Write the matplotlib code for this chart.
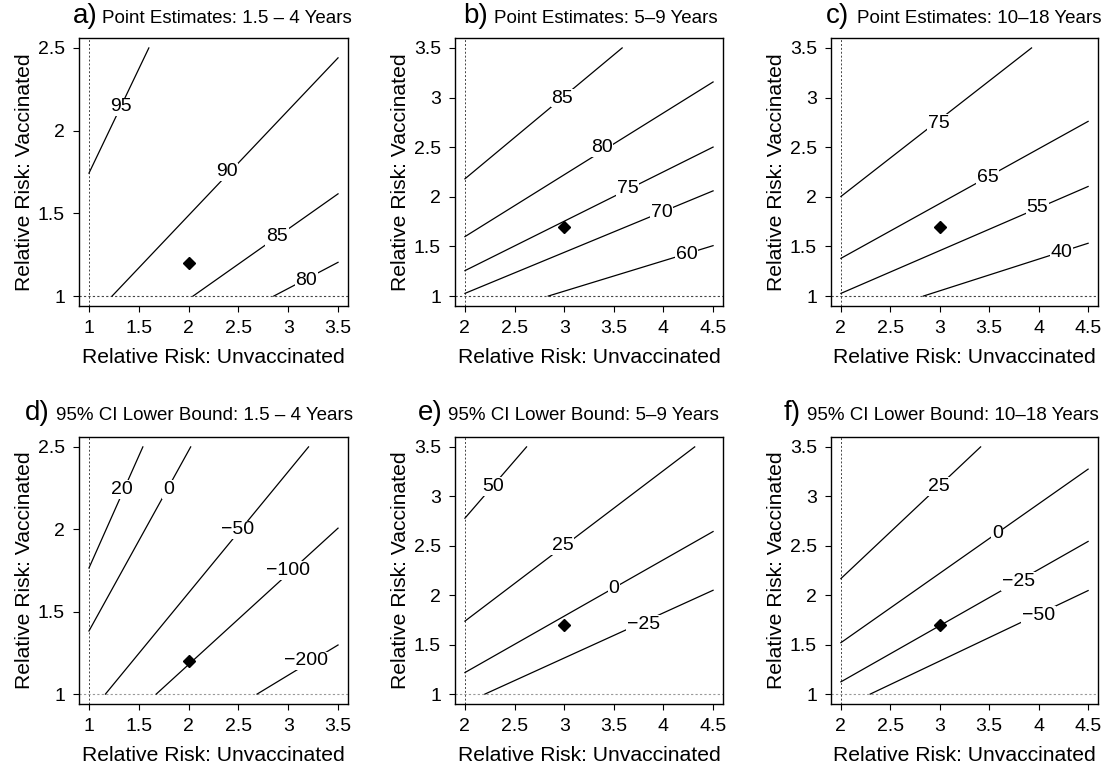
import matplotlib.pyplot as plt

plt.rcParams['font.family'] = ['Liberation Sans', 'DejaVu Sans']

W, H = 1115, 771

# ---- panel data (RR unvaccinated, RR vaccinated) ----
# a) Point Estimates: 1.5 - 4 Years
a_levels = ["95", "90", "85", "80"]
a_start = [(1.0, 1.743), (1.232, 1.0), (2.045, 1.0), (2.855, 1.0)]
a_end = [(1.601, 2.5), (3.5, 2.44), (3.5, 1.618), (3.5, 1.204)]
a_label_at = [(1.316, 2.144), (2.384, 1.750), (2.888, 1.360), (3.181, 1.093)]
a_point = (2.0, 1.2)

# b) Point Estimates: 5-9 Years
b_levels = ["85", "80", "75", "70", "60"]
b_start = [(2.0, 2.181), (2.0, 1.599), (2.0, 1.256), (2.0, 1.027), (2.839, 1.0)]
b_end = [(3.584, 3.5), (4.5, 3.157), (4.5, 2.501), (4.5, 2.06), (4.5, 1.508)]
b_label_at = [(2.983, 2.995), (3.376, 2.497), (3.638, 2.087), (3.98, 1.845), (4.232, 1.414)]
b_point = (3.0, 1.7)

# c) Point Estimates: 10-18 Years
c_levels = ["75", "65", "55", "40"]
c_start = [(2.0, 2.003), (2.0, 1.380), (2.0, 1.027), (2.834, 1.0)]
c_end = [(3.928, 3.5), (4.5, 2.760), (4.5, 2.104), (4.5, 1.532)]
c_label_at = [(2.986, 2.743), (3.484, 2.194), (3.989, 1.895), (4.231, 1.441)]
c_point = (3.0, 1.7)

# d) 95% CI Lower Bound: 1.5 - 4 Years
d_levels = ["20", "0", "\u221250", "\u2212100", "\u2212200"]
d_start = [(1.0, 1.765), (1.0, 1.383), (1.165, 1.0), (1.675, 1.0), (2.687, 1.0)]
d_end = [(1.541, 2.5), (2.021, 2.5), (3.204, 2.5), (3.5, 2.007), (3.5, 1.298)]
d_label_at = [(1.333, 2.242), (1.796, 2.242), (2.492, 1.997), (2.996, 1.749), (3.181, 1.201)]
d_point = (2.0, 1.2)

# e) 95% CI Lower Bound: 5-9 Years
e_levels = ["50", "25", "0", "\u221225"]
e_start = [(2.0, 2.779), (2.0, 1.738), (2.0, 1.218), (2.201, 1.0)]
e_end = [(2.621, 3.5), (4.315, 3.5), (4.5, 2.644), (4.5, 2.05)]
e_label_at = [(2.285, 3.097), (2.983, 2.5), (3.5, 2.067), (3.795, 1.705)]
e_point = (3.0, 1.7)

# f) 95% CI Lower Bound: 10-18 Years
f_levels = ["25", "0", "\u221225", "\u221250"]
f_start = [(2.0, 2.168), (2.0, 1.52), (2.0, 1.124), (2.296, 1.0)]
f_end = [(3.413, 3.5), (4.5, 3.275), (4.5, 2.544), (4.5, 2.047)]
f_label_at = [(2.986, 3.097), (3.581, 2.628), (3.793, 2.141), (3.995, 1.799)]
f_point = (3.0, 1.7)

letters = ["a)", "b)", "c)", "d)", "e)", "f)"]
titles = ["Point Estimates: 1.5 \u2013 4 Years", "Point Estimates: 5\u20139 Years",
          "Point Estimates: 10\u201318 Years", "95% CI Lower Bound: 1.5 \u2013 4 Years",
          "95% CI Lower Bound: 5\u20139 Years", "95% CI Lower Bound: 10\u201318 Years"]

panels = [
    (a_levels, a_start, a_end, a_label_at, a_point),
    (b_levels, b_start, b_end, b_label_at, b_point),
    (c_levels, c_start, c_end, c_label_at, c_point),
    (d_levels, d_start, d_end, d_label_at, d_point),
    (e_levels, e_start, e_end, e_label_at, e_point),
    (f_levels, f_start, f_end, f_label_at, f_point),
]

# layout in pixels: axes left/right, top/bottom
ax_lr = [(79, 348), (455, 723), (831, 1098)]
ax_tb = [(38, 306), (437, 704)]
# title pieces: letter right edge, text left edge, baseline
letter_right = [98, 488, 849, 50, 443, 801]
text_left = [102, 494, 857, 56, 448, 807]
title_base = [23, 420]

fig = plt.figure(figsize=(W / 100, H / 100), dpi=100)

for i, (levels, start, end, label_at, point) in enumerate(panels):
    row, col = divmod(i, 3)
    l, r = ax_lr[col]
    t, b = ax_tb[row]
    ax = fig.add_axes([l / W, 1 - b / H, (r - l) / W, (b - t) / H])

    xmin = 1.0 if col == 0 else 2.0
    xmax = 3.5 if col == 0 else 4.5
    ymax = 2.5 if col == 0 else 3.5
    xr = xmax - xmin
    yr = ymax - 1.0
    ax.set_xlim(xmin - 0.04 * xr, xmax + 0.04 * xr)
    ax.set_ylim(1.0 - 0.04 * yr, ymax + 0.04 * yr)

    # reference lines at the lower-left corner of the grid
    ref_col = '#444444' if row == 0 else '#999999'
    ax.axvline(xmin, color='#444444', lw=0.7, ls=(0, (2, 2)))
    ax.axhline(1.0, color=ref_col, lw=0.8, ls=(0, (2, 2)))

    for lev, p0, p1, lp in zip(levels, start, end, label_at):
        ax.plot([p0[0], p1[0]], [p0[1], p1[1]], color='black', lw=0.9)
        ax.text(lp[0], lp[1], lev, ha='center', va='center', fontsize=14,
                bbox=dict(facecolor='white', edgecolor='none', pad=0.5))

    ax.plot(point[0], point[1], marker='D', color='black', ms=6.3)

    if col == 0:
        ax.set_xticks([1, 1.5, 2, 2.5, 3, 3.5])
        ax.set_xticklabels(["1", "1.5", "2", "2.5", "3", "3.5"])
        ax.set_yticks([1, 1.5, 2, 2.5])
        ax.set_yticklabels(["1", "1.5", "2", "2.5"])
    else:
        ax.set_xticks([2, 2.5, 3, 3.5, 4, 4.5])
        ax.set_xticklabels(["2", "2.5", "3", "3.5", "4", "4.5"])
        ax.set_yticks([1, 1.5, 2, 2.5, 3, 3.5])
        ax.set_yticklabels(["1", "1.5", "2", "2.5", "3", "3.5"])

    ax.tick_params(direction='out', length=4.5, width=0.8, labelsize=14, pad=5.5)
    for s in ax.spines.values():
        s.set_linewidth(1.0)

    ax.set_xlabel("Relative Risk: Unvaccinated", fontsize=15.2, labelpad=8)
    ax.set_ylabel("Relative Risk: Vaccinated", fontsize=15.2, labelpad=3)

    yb = 1 - title_base[row] / H
    fig.text(letter_right[i] / W, yb, letters[i], ha='right', va='baseline', fontsize=20)
    fig.text(text_left[i] / W, yb, titles[i], ha='left', va='baseline', fontsize=13.5)

plt.savefig("out.png", dpi=100)
